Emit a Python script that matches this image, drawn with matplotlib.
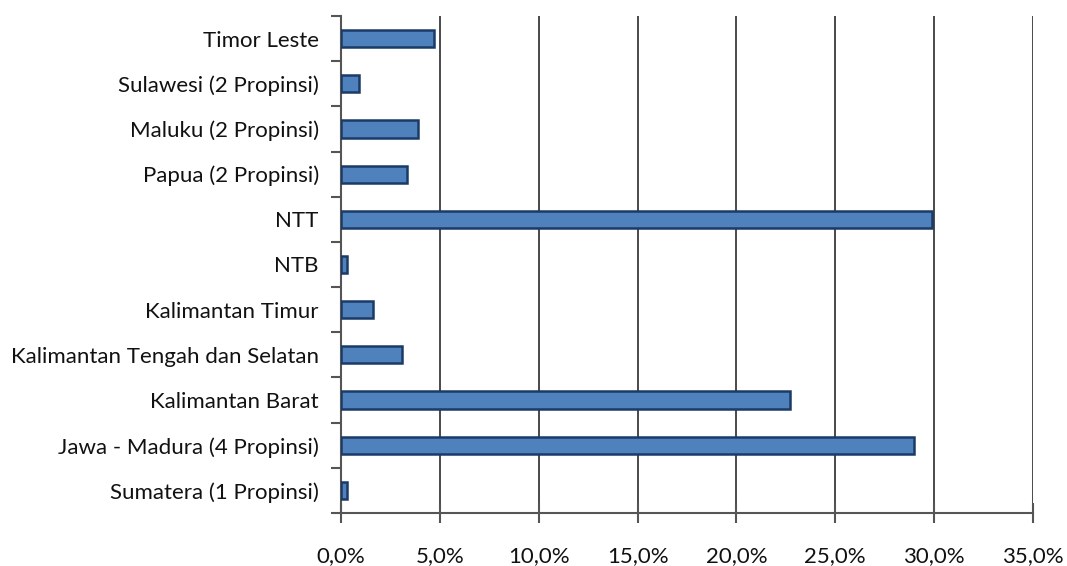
import matplotlib
matplotlib.use("Agg")
import matplotlib.pyplot as plt
from matplotlib.ticker import FuncFormatter

categories = [
    "Sumatera (1 Propinsi)",
    "Jawa - Madura (4 Propinsi)",
    "Kalimantan Barat",
    "Kalimantan Tengah dan Selatan",
    "Kalimantan Timur",
    "NTB",
    "NTT",
    "Papua (2 Propinsi)",
    "Maluku (2 Propinsi)",
    "Sulawesi (2 Propinsi)",
    "Timor Leste",
]
values = [0.3, 29.0, 22.7, 3.1, 1.6, 0.3, 29.9, 3.35, 3.9, 0.9, 4.7]
xticks = [0, 5, 10, 15, 20, 25, 30, 35]

plt.rcParams['font.family'] = ['Lato', 'DejaVu Sans']

fig = plt.figure(figsize=(10.67, 5.66), dpi=100)
ax = fig.add_axes([341/1067, 1 - 513/566, (1033-341)/1067, (513-16)/566])

y = list(range(len(categories)))
ax.barh(y, values, height=0.38, color="#4F81BD", edgecolor="#1B3A66", linewidth=1.8, zorder=3)

ax.set_xlim(0, 35)
ax.set_ylim(-0.5, len(categories) - 0.5)
ax.set_xticks(xticks)
ax.xaxis.set_major_formatter(FuncFormatter(lambda v, p: f"{v:.1f}%".replace(".", ",")))
ax.set_yticks(y)
ax.set_yticklabels(categories)
ax.set_yticks([i - 0.5 for i in range(len(categories) + 1)], minor=True)

ax.grid(axis="x", color="#2a2a2a", linewidth=1.2, zorder=0)
for s in ["top", "right"]:
    ax.spines[s].set_visible(False)
for s in ["left", "bottom"]:
    ax.spines[s].set_color("#555555")
    ax.spines[s].set_linewidth(1.5)

ax.tick_params(axis="y", which="major", length=0, pad=16, labelsize=16, labelcolor="#111111")
ax.tick_params(axis="y", which="minor", length=7, width=1.5, color="#555555", direction="out")
ax.tick_params(axis="x", which="major", length=14, width=1.5, color="#555555", direction="inout", pad=17, labelsize=16, labelcolor="#111111")

fig.savefig("out.png", dpi=100)
